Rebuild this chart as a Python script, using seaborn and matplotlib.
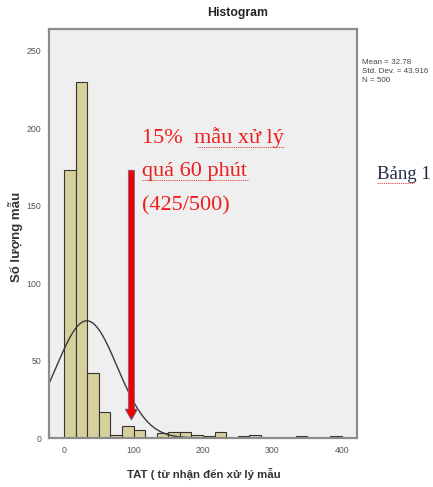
import numpy as np
import pandas as pd
import matplotlib
matplotlib.use("Agg")
import matplotlib.pyplot as plt
from matplotlib.lines import Line2D
import seaborn as sns

# ---- data ----
bin_width = 50 / 3
counts = [173, 230, 42, 17, 2, 8, 5, 0, 3, 4, 4, 2, 1, 4, 0, 1, 2, 0, 0, 0, 1, 0, 0, 1]
x_ticks = [0, 100, 200, 300, 400]
y_ticks = [0, 50, 100, 150, 200, 250]
mean_val = 32.78
std_val = 43.916
n_val = 500
title = "Histogram"
x_label = "TAT ( từ nhận đến xử lý mẫu"
y_label = "Số lượng mẫu"
stats_lines = ["Mean = 32.78", "Std. Dev. = 43.916", "N = 500"]
note_lines = ["15%  mẫu xử lý", "quá 60 phút", "(425/500)"]
side_text = "Bảng 1"

sns.set_style("white")
plt.rcParams["font.family"] = ["Liberation Sans", "DejaVu Sans"]

W, H = 433, 487
fig = plt.figure(figsize=(W / 100, H / 100), dpi=100)
fig.patch.set_facecolor("white")


def fx(px):
    return px / W


def fy(py):
    return 1 - py / H


ax = fig.add_axes([fx(49), fy(438), fx(357) - fx(49), fy(29) - fy(438)])
ax.set_facecolor("#EFEFEF")

nbins = len(counts)
df = pd.DataFrame({"tat": (np.arange(nbins) + 0.5) * bin_width, "n": counts})
sns.histplot(data=df, x="tat", weights="n", binwidth=bin_width,
             binrange=(0, nbins * bin_width), ax=ax, color="#D6D19C",
             edgecolor="#333333", linewidth=0.8, alpha=1)

# normal curve (SPSS overlay)
xs = np.linspace(-25, 425, 400)
ys = n_val * bin_width / (std_val * np.sqrt(2 * np.pi)) * np.exp(-0.5 * ((xs - mean_val) / std_val) ** 2)
ax.plot(xs, ys, color="#3a3a3a", lw=1.0)

ax.set_xlim(-21.6, 421.6)
ax.set_ylim(0, 264.2)
ax.set_xticks(x_ticks)
ax.set_yticks(y_ticks)
ax.set_xlabel("")
ax.set_ylabel("")
ax.tick_params(axis="x", direction="inout", length=8, width=1.1, color="#444444",
               labelsize=6.3, labelcolor="#555555", pad=2)
ax.tick_params(axis="y", direction="out", length=4, width=1.0, color="#444444",
               labelsize=6.3, labelcolor="#555555", pad=1.5)
for s in ax.spines.values():
    s.set_visible(True)
    s.set_color("#8c8c8c")
    s.set_linewidth(1.6)

# arrow
ax.annotate("", xy=(97, 11.5), xytext=(97, 173),
            arrowprops=dict(arrowstyle="simple,head_width=0.9,head_length=0.8,tail_width=0.45",
                            fc="#ee0000", ec="#6070b0", lw=0.5, mutation_scale=10,
                            shrinkA=0, shrinkB=0))

# texts
fig.text(fx(238), fy(13), title, ha="center", va="center", fontsize=8.8, fontweight="bold",
         color="#222222")
fig.text(fx(204), fy(474), x_label, ha="center", va="center", fontsize=8.2, fontweight="bold",
         color="#333333")
fig.text(fx(16), fy(237), y_label, ha="center", va="center", rotation=90, fontsize=9.5,
         fontweight="bold", color="#333333")
for i, s in enumerate(stats_lines):
    fig.text(fx(362), fy(63 + 8.6 * i), s, ha="left", va="center", fontsize=5.8, color="#444444")

red_base = [143, 176, 210]
for s, b in zip(note_lines, red_base):
    fig.text(fx(142), fy(b), s, ha="left", va="baseline", fontsize=16, color="#ee1c1c",
             family=["Liberation Serif", "DejaVu Serif"])
fig.text(fx(377), fy(179), side_text, ha="left", va="baseline", fontsize=13.5, color="#1f2a44",
         family=["Liberation Serif", "DejaVu Serif"])

# spell-check style underlines
for (x0, x1, yy) in [(197, 284, 147), (142, 248, 180), (377, 414, 183)]:
    fig.add_artist(Line2D([fx(x0), fx(x1)], [fy(yy), fy(yy)], color="#e04848", lw=0.7,
                          linestyle=(0, (1.2, 1.0)), transform=fig.transFigure))

fig.savefig("out.png", dpi=100)
